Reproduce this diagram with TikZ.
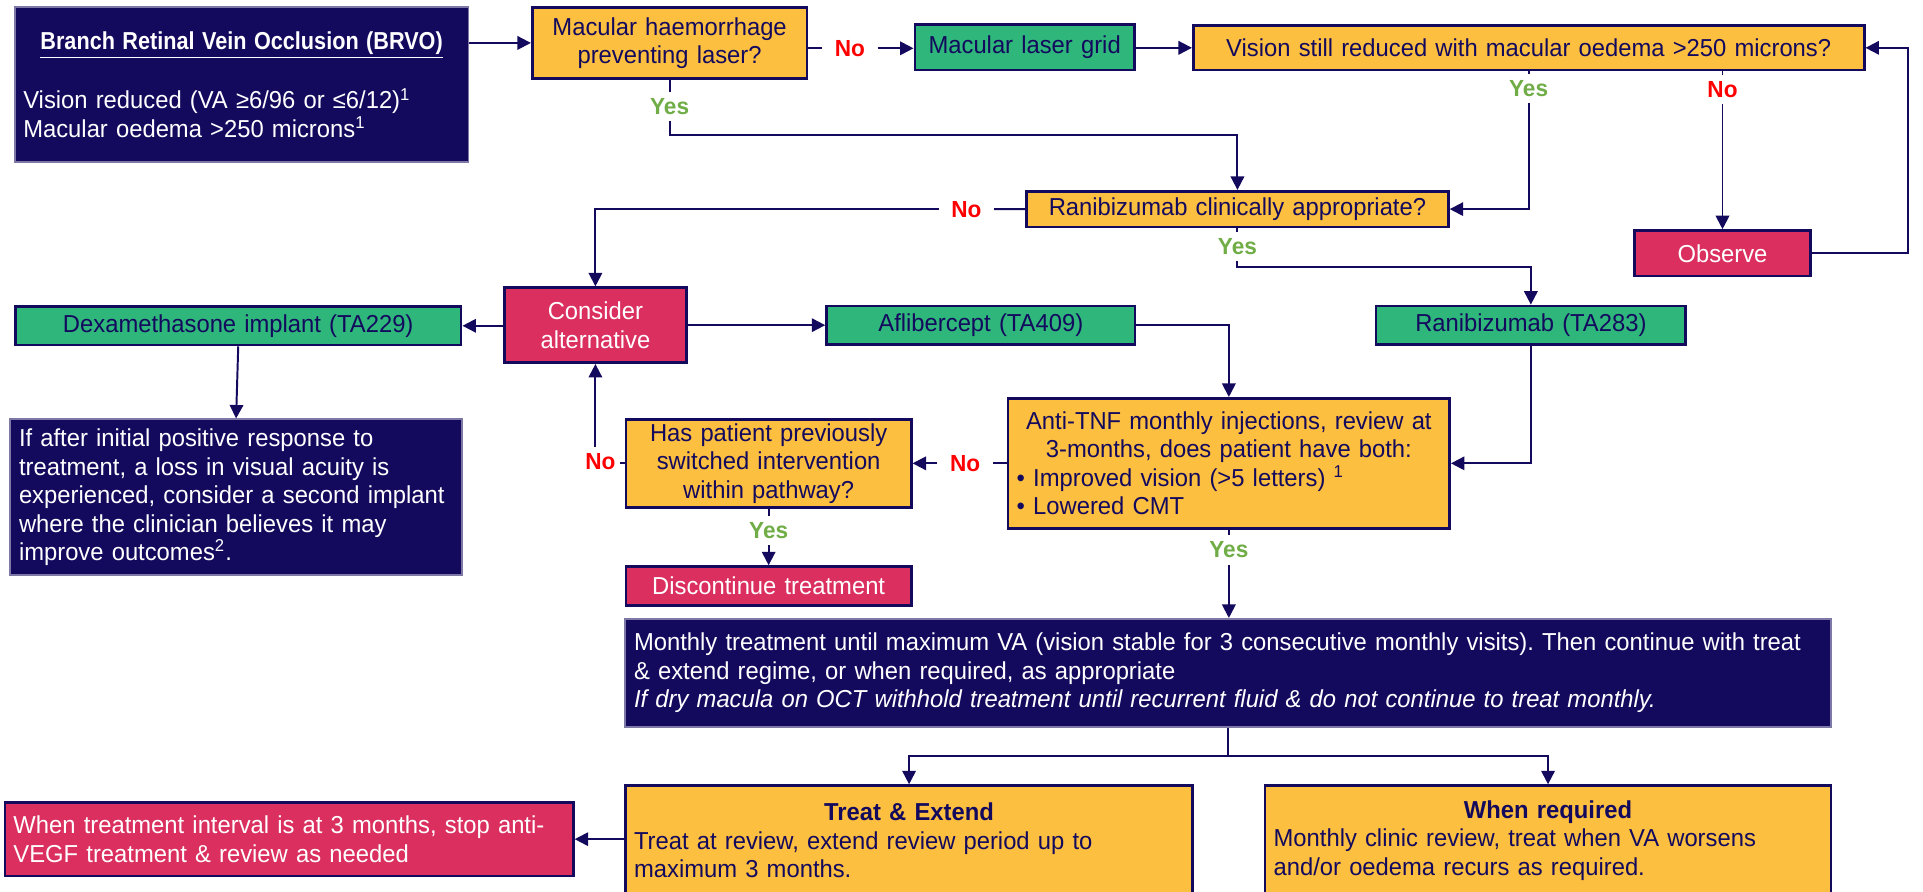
\documentclass[tikz,border=0pt]{standalone}
\usepackage{fontspec}
\setmainfont{Liberation Sans}[FakeStretch=0.97]
\usetikzlibrary{arrows.meta}

\definecolor{navy}{HTML}{130A5E}
\definecolor{amber}{HTML}{FDBF3F}
\definecolor{drugfill}{HTML}{2FB67B}
\definecolor{rose}{HTML}{DA2F5F}
\definecolor{nored}{HTML}{FF0000}
\definecolor{yesgreen}{HTML}{70AD47}

% box node from its corners (x1,y1)-(x2,y2); \boxT holds the usable text width
\newcommand\placebox[7]{%
  \pgfmathsetmacro\boxW{(#5-#3)*0.5}%
  \pgfmathsetmacro\boxH{(#6-#4)*0.5}%
  \pgfmathsetmacro\boxT{(#5-#3)*0.5-7}%
  \node[#2, minimum width=\boxW pt, minimum height=\boxH pt, text width=\boxT pt]
    (#1) at ({(#3+#5)/2},{(#4+#6)/2}) {#7};}

\begin{document}
\begin{tikzpicture}[x=0.5pt,y=-0.5pt,
  every node/.style={font=\fontsize{10}{11.6}\selectfont\frenchspacing},
  box/.style={draw=navy, line width=1.1pt, inner xsep=3.5pt, inner ysep=1pt},
  qbox/.style={box, fill=amber, text=navy, align=center},
  dbox/.style={box, fill=drugfill, text=navy, align=center},
  abox/.style={box, fill=rose, text=white, align=center},
  ibox/.style={box, fill=navy, draw=navy!55!white, line width=0.8pt, text=white, align=left},
  ln/.style={draw=navy, line width=0.8pt},
  arr/.style={ln, -{Triangle[length=5.5pt,width=5.5pt]}},
  yeslab/.style={text=yesgreen, font=\bfseries\fontsize{9.5}{11}\selectfont, inner xsep=4.5pt, inner ysep=2.5pt},
  nolab/.style={text=nored, font=\bfseries\fontsize{9.5}{11}\selectfont, inner xsep=5pt, inner ysep=2.5pt},
]
\useasboundingbox (0,0) rectangle (1568,727);
\clip (0,0) rectangle (1568,727);

% ---- boxes ----
\placebox{brvo}{ibox}{12}{6}{382}{132}{%
  \makebox[\boxT pt][c]{\scalebox{0.91}[1]{\bfseries\underline{Branch Retinal Vein Occlusion (BRVO)}}}\\[10.8pt]
  Vision reduced (VA ≥6/96 or ≤6/12)\textsuperscript{1}\\
  Macular oedema >250 microns\textsuperscript{1}}
\placebox{mh}{qbox}{434}{6}{658}{64}{Macular haemorrhage\\preventing laser?}
\placebox{mlg}{dbox}{746}{20}{925}{57}{Macular laser grid}
\placebox{vsr}{qbox}{973}{21}{1520}{57}{Vision still reduced with macular oedema >250 microns?}
\placebox{rca}{qbox}{837}{156}{1181}{185}{Ranibizumab clinically appropriate?}
\placebox{obs}{abox}{1333}{188}{1476}{225}{Observe}
\placebox{ca}{abox}{411.5}{234.6}{559.5}{295.7}{Consider\\alternative}
\placebox{dex}{dbox}{12.5}{250}{376}{281.3}{Dexamethasone implant (TA229)}
\placebox{afl}{dbox}{674}{249.5}{925.5}{280.8}{Aflibercept (TA409)}
\placebox{rt}{dbox}{1122}{249.5}{1374.5}{280.8}{Ranibizumab (TA283)}
\placebox{at}{qbox}{822}{324.8}{1182}{430.8}{%
  Anti-TNF monthly injections, review at\\
  3-months, does patient have both:\\
  \makebox[\boxT pt][l]{• Improved vision (>5 letters) \textsuperscript{1}}\\
  \makebox[\boxT pt][l]{• Lowered CMT}}
\placebox{hp}{qbox}{510.5}{341.8}{743}{414}{Has patient previously\\switched intervention\\within pathway?}
\placebox{dt}{abox}{510.5}{462}{743}{493.5}{Discontinue treatment}
\placebox{note}{ibox}{8.5}{342}{376.5}{469}{%
  If after initial positive response to\\
  treatment, a loss in visual acuity is\\
  experienced, consider a second implant\\
  where the clinician believes it may\\
  improve outcomes\textsuperscript{2}.}
\placebox{mt}{ibox}{510}{504.7}{1493}{592.5}{%
  Monthly treatment until maximum VA (vision stable for 3 consecutive monthly visits). Then continue with treat\\
  \& extend regime, or when required, as appropriate\\
  \textit{If dry macula on OCT withhold treatment until recurrent fluid \& do not continue to treat monthly.}}
\placebox{te}{qbox}{510}{640.6}{972.5}{730}{%
  \makebox[\boxT pt][c]{\bfseries Treat \& Extend}\\
  \makebox[\boxT pt][l]{Treat at review, extend review period up to}\\
  \makebox[\boxT pt][l]{maximum 3 months.}}
\placebox{wr}{qbox}{1031.5}{640.6}{1493}{730}{%
  \makebox[\boxT pt][c]{\bfseries When required}\\
  \makebox[\boxT pt][l]{Monthly clinic review, treat when VA worsens}\\
  \makebox[\boxT pt][l]{and/or oedema recurs as required.}}
\placebox{stop}{abox}{4}{654.2}{467.5}{714.3}{%
  \makebox[\boxT pt][l]{When treatment interval is at 3 months, stop anti-}\\
  \makebox[\boxT pt][l]{VEGF treatment \& review as needed}}

% ---- branch labels ----
\node[nolab]  (no1)  at (693,39.4)   {No};
\node[yeslab] (yes1) at (546,87)     {Yes};
\node[yeslab] (yes2) at (1246.4,72)  {Yes};
\node[nolab]  (no2)  at (1404.5,73)  {No};
\node[nolab]  (no3)  at (788,170.7)  {No};
\node[yeslab] (yes3) at (1009,201)   {Yes};
\node[nolab]  (no4)  at (787,377.8)  {No};
\node[nolab, inner xsep=1.5pt] (no5) at (489.5,376.5) {No};
\node[yeslab] (yes4) at (626.75,432.7) {Yes};
\node[yeslab] (yes5) at (1002,448.5) {Yes};

% ---- bend points ----
\coordinate (j1) at (0,110);
\coordinate (j2) at (0,217.5);
\coordinate (j3) at (0,616.2);
\coordinate (loop) at (1556,0);

% ---- connectors ----
\draw[arr] (brvo.east |- mh.west) -- (mh.west);
\draw[ln]  (mh.east |- no1) -- (no1);
\draw[arr] (no1) -- (mlg.west |- no1);
\draw[arr] (mlg.east |- vsr.west) -- (vsr.west);

\draw[ln]  (mh.south) -- (yes1);
\draw[arr] (yes1) |- (rca.north |- j1) -- (rca.north);

\draw[ln]  (vsr.south -| yes2) -- (yes2);
\draw[arr] (yes2) |- (rca.east);
\draw[ln]  (vsr.south -| no2) -- (no2);
\draw[arr] (no2) -- (obs.north);
\draw[arr] (obs.east) -| (loop |- vsr.east) -- (vsr.east);

\draw[ln]  (rca.west) -- (no3);
\draw[arr] (no3) -| (ca.north);
\draw[ln]  (rca.south) -- (yes3);
\draw[arr] (yes3) |- (rt.north |- j2) -- (rt.north);

\draw[arr] (ca.west |- dex.east) -- (dex.east);
\draw[arr] (ca.east |- afl.west) -- (afl.west);
\draw[arr] (dex.south) -- (note.north);

\draw[arr] (afl.east) -| (at.north);
\draw[arr] (rt.south) |- (at.east);

\draw[ln]  (at.west) -- (no4);
\draw[arr] (no4) -- (hp.east |- no4);
\draw[ln]  (hp.west |- no4) -- (no5.east |- no4);
\draw[arr] (ca.south |- no5.north) -- (ca.south);

\draw[ln]  (hp.south) -- (yes4);
\draw[arr] (yes4) -- (dt.north);

\draw[ln]  (at.south) -- (yes5);
\draw[arr] (yes5) -- (mt.north -| yes5);
\draw[ln]  (mt.south) -- (mt.south |- j3);
\draw[arr] (mt.south |- j3) -| (te.north);
\draw[arr] (mt.south |- j3) -| (wr.north);
\draw[arr] (te.west |- stop.east) -- (stop.east);
\end{tikzpicture}
\end{document}
